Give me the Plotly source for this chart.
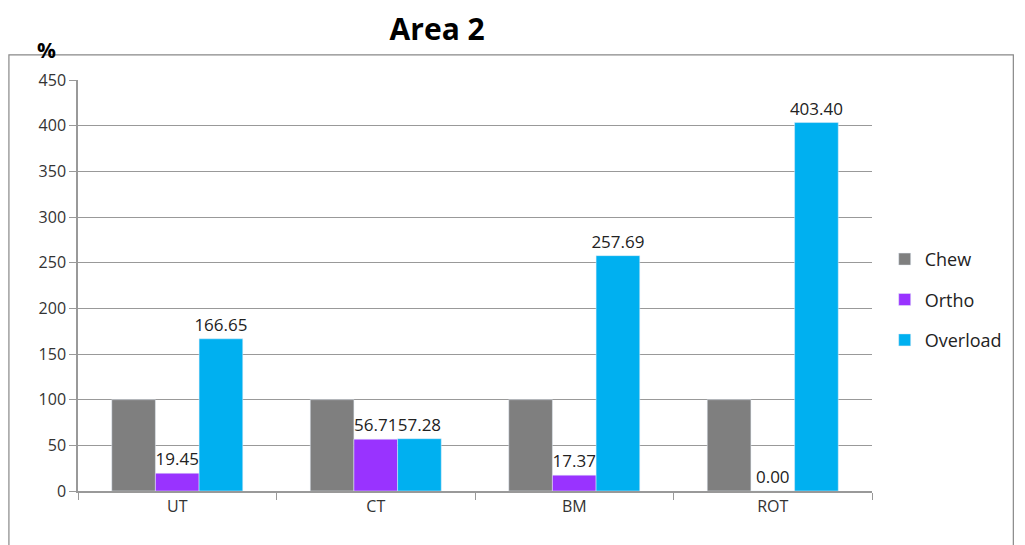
import plotly.graph_objects as go

categories = ["UT", "CT", "BM", "ROT"]
chew = [100, 100, 100, 100]
ortho = [19.45, 56.71, 17.37, 0.00]
overload = [166.65, 57.28, 257.69, 403.40]
y_ticks = [0, 50, 100, 150, 200, 250, 300, 350, 400, 450]

font = "Open Sans"
label_font = dict(size=17, color="#222")

fig = go.Figure()
fig.add_trace(go.Bar(x=categories, y=chew, name="Chew", legendgroup="a",
                     marker=dict(color="#7f7f7f")))
fig.add_trace(go.Bar(x=categories, y=ortho, name="Ortho", legendgroup="b",
                     marker=dict(color="#9933ff"),
                     text=[f"{v:.2f}" for v in ortho], textposition="outside",
                     constraintext="none", textfont=label_font, cliponaxis=False))
fig.add_trace(go.Bar(x=categories, y=overload, name="Overload", legendgroup="c",
                     marker=dict(color="#00b0f0"),
                     text=[f"{v:.2f}" for v in overload], textposition="outside",
                     constraintext="none", textfont=label_font, cliponaxis=False))

# page body adds 8px offset, so figure is a bit smaller than the window
fig.update_layout(
    width=1017, height=537,
    margin=dict(l=70, r=153, t=72, b=54, autoexpand=False),
    paper_bgcolor="white", plot_bgcolor="white",
    font=dict(family=font, size=15, color="#333"),
    barmode="group", bargap=0.34, bargroupgap=0,
    title=dict(text="<b>Area 2</b>", x=0.422, xanchor="center", y=0.96, yanchor="middle",
               font=dict(size=30, color="black")),
    legend=dict(x=1.016, y=0.465, xanchor="left", yanchor="middle",
                font=dict(size=18, color="#222"), tracegroupgap=14, itemwidth=30),
    showlegend=True,
    xaxis=dict(showline=True, linecolor="#999", linewidth=1.5, ticks="outside",
               tickson="boundaries", ticklen=7, tickcolor="#999", tickfont=dict(size=16),
               mirror=False),
    yaxis=dict(range=[0, 450], tickvals=y_ticks, showline=True, linecolor="#999", linewidth=1.5,
               ticks="outside", ticklen=7, tickcolor="#999", showgrid=True,
               gridcolor="#999", gridwidth=1.2, tickfont=dict(size=16), zeroline=False),
    shapes=[dict(type="rect", xref="paper", yref="paper", x0=-0.087, x1=1.178,
                 y0=-0.17, y1=1.061, line=dict(color="#888", width=1.2), layer="below")],
    annotations=[dict(text="<b>%</b>", xref="paper", yref="paper", x=-0.04, y=1.073,
                      xanchor="center", yanchor="middle",
                      showarrow=False, font=dict(size=21, color="black"))],
)

fig.write_html("out.html")
